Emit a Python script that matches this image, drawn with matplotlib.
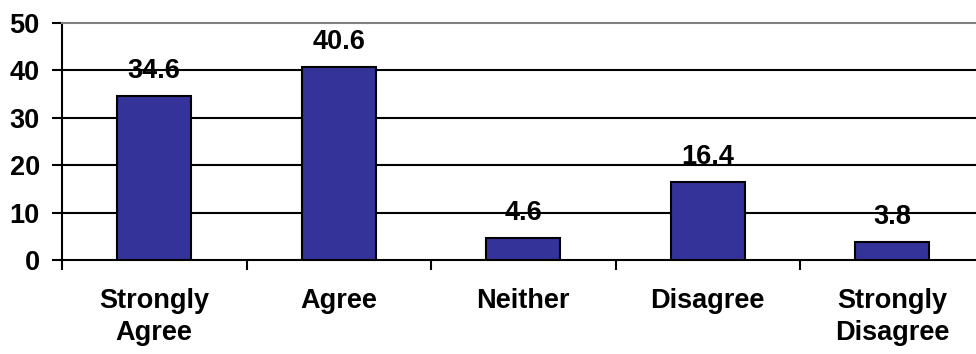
import numpy as np
import matplotlib
matplotlib.use("Agg")
import matplotlib.pyplot as plt

categories = ["Strongly\nAgree", "Agree", "Neither", "Disagree", "Strongly\nDisagree"]
values = [34.6, 40.6, 4.6, 16.4, 3.8]
yticks = [0, 10, 20, 30, 40, 50]

plt.rcParams['font.family'] = ['Liberation Sans', 'DejaVu Sans']
plt.rcParams['font.weight'] = 'bold'

fig = plt.figure(figsize=(9.76, 3.54), dpi=100)
# plot area runs a bit past the right edge, like the original
ax = fig.add_axes([62 / 976, 0.2655, 922.5 / 976, 0.670])

x = np.arange(len(values))
ax.bar(x, values, width=0.4, color="#333399", edgecolor="black", linewidth=1.5, zorder=3)

# value labels sit under the gridlines, as in the original
for xi, v in zip(x, values):
    ax.annotate("%.1f" % v, (xi, v), xytext=(0, 18), textcoords="offset points",
                ha="center", va="center", fontsize=19.5, fontweight="bold", zorder=0.5)

ax.set_xlim(-0.5, len(values) - 0.5)
ax.set_ylim(0, 50)
ax.set_yticks(yticks)
ax.set_yticklabels([str(t) for t in yticks], fontsize=19.5, fontweight="bold")
for t in yticks[1:-1]:
    ax.axhline(t, color="black", linewidth=1.5, zorder=1)

ax.set_xticks(x)
ax.set_xticklabels(categories, fontsize=19.5, fontweight="bold", linespacing=1.3)
ax.set_xticks(np.arange(len(values) + 1) - 0.5, minor=True)
ax.tick_params(axis="x", which="major", length=0, pad=20)
ax.tick_params(axis="x", which="minor", length=7, width=1.5, direction="out")
ax.tick_params(axis="y", length=7, width=1.5, direction="out", pad=9)

for s in ["left", "bottom"]:
    ax.spines[s].set_linewidth(1.5)
    ax.spines[s].set_color("black")
ax.spines["top"].set_color("#808080")
ax.spines["top"].set_linewidth(1.5)
ax.spines["right"].set_visible(False)

fig.savefig("out.png", dpi=100)
